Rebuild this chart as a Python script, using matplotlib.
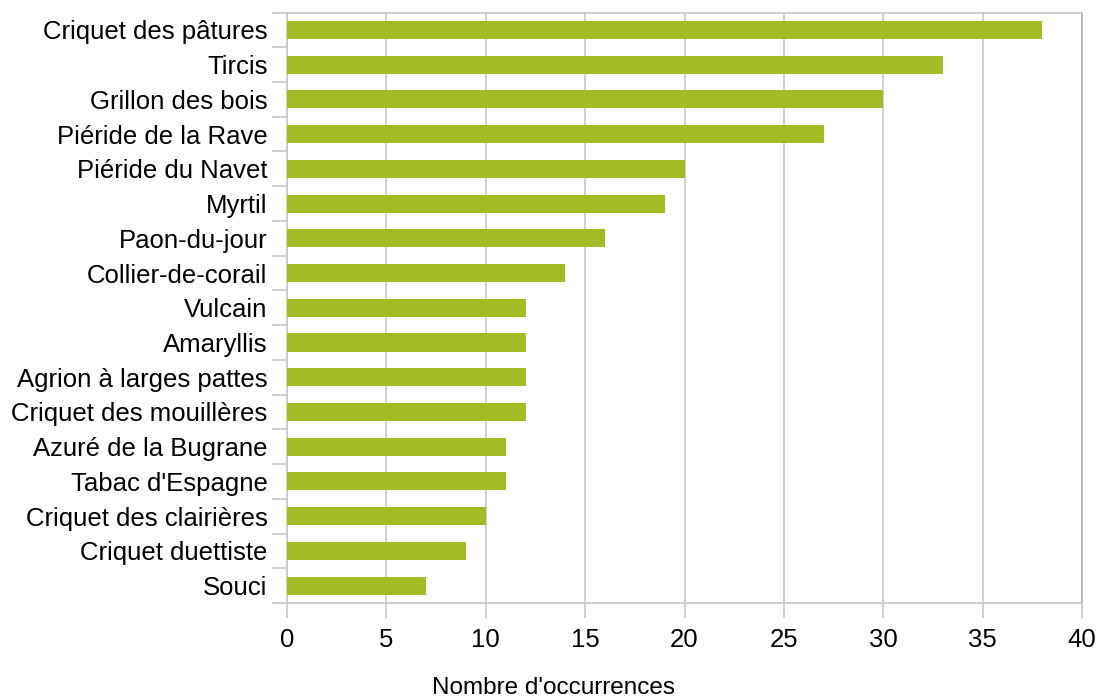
import matplotlib
matplotlib.use("Agg")
import matplotlib.pyplot as plt

# species names, top to bottom as shown in the chart
species = [
    "Criquet des pâtures", "Tircis", "Grillon des bois", "Piéride de la Rave",
    "Piéride du Navet", "Myrtil", "Paon-du-jour", "Collier-de-corail",
    "Vulcain", "Amaryllis", "Agrion à larges pattes", "Criquet des mouillères",
    "Azuré de la Bugrane", "Tabac d'Espagne", "Criquet des clairières",
    "Criquet duettiste", "Souci",
]
occurrences = [38, 33, 30, 27, 20, 19, 16, 14, 12, 12, 12, 12, 11, 11, 10, 9, 7]
x_ticks = [0, 5, 10, 15, 20, 25, 30, 35, 40]

plt.rcParams['font.family'] = ['Liberation Sans', 'DejaVu Sans']

fig = plt.figure(figsize=(11.01, 7.0), dpi=100)
ax = fig.add_axes([287 / 1101, 1 - 603 / 700, (1082 - 287) / 1101, (603 - 12.5) / 700])

n = len(species)
pos = list(range(n))[::-1]
ax.barh(pos, occurrences, height=0.52, color="#a5bb26", zorder=3)

ax.set_xlim(0, 40)
ax.set_ylim(-0.5, n - 0.5)
ax.set_xticks(x_ticks)
ax.set_xticklabels([str(t) for t in x_ticks], fontsize=18.5)
ax.set_yticks(pos)
ax.set_yticklabels(species, fontsize=18.5)

# category separators as outward tick marks on y axis
ax.set_yticks([p + 0.5 for p in range(-1, n)], minor=True)
ax.tick_params(axis='y', which='major', length=0, pad=14)
ax.tick_params(axis='y', which='minor', length=11, color="#c8c8c8", width=1.2)
ax.tick_params(axis='x', length=11, color="#c8c8c8", width=1.2, pad=7)

ax.grid(axis='x', color="#c8c8c8", linewidth=1.2, zorder=0)
for s in ax.spines.values():
    s.set_color("#c8c8c8")
    s.set_linewidth(1.2)
ax.spines['right'].set_color("#b3b3b3")

fig.text(553 / 1101, 1 - 688 / 700, "Nombre d'occurrences", ha='center', va='center', fontsize=17.5)

fig.savefig("out.png", dpi=100)
